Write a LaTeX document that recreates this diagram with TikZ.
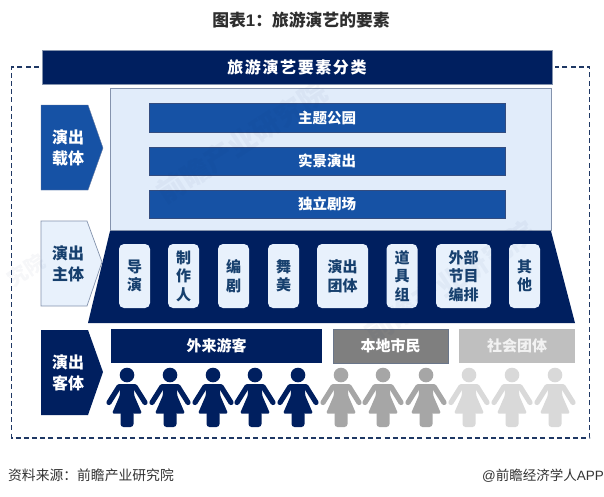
\documentclass[tikz,border=0pt]{standalone}
\usepackage{fontspec}
\setmainfont{Noto Sans CJK SC}
\newfontfamily\latinf{Liberation Sans}
\definecolor{navy}{HTML}{001F5F}
\definecolor{midblue}{HTML}{1652A5}
\definecolor{panel}{HTML}{E1ECFA}
\definecolor{card}{HTML}{E8F1FC}
\definecolor{cardtxt}{HTML}{17406E}
\definecolor{edge}{HTML}{8493AD}
\definecolor{midgray}{HTML}{7F7F7F}
\definecolor{ltgray}{HTML}{BFBFBF}
\definecolor{pgray}{HTML}{A6A6A6}
\definecolor{plight}{HTML}{D9D9D9}
\definecolor{framec}{HTML}{1F3864}
\newcommand{\fs}[2]{\fontsize{#1}{#2}\selectfont}
\newcommand{\personfig}[2]{%
  \begin{scope}[shift={(#1,375)}]
    \fill[#2] (0,0) circle[radius=7.3];
    \fill[#2,rounded corners=1.5pt] (-7.5,9) -- (7.5,9) -- (7,20) -- (15,38.5) -- (-15,38.5) -- (-7,20) -- cycle;
    \fill[#2,rounded corners=3pt] (-6.5,36) rectangle (6.5,52);
    \draw[#2,line width=5.2pt,line cap=round,line join=round] (-6,11.6) -- (-8,11.6) -- (-18,27.5);
    \draw[#2,line width=5.2pt,line cap=round,line join=round] (6,11.6) -- (8,11.6) -- (18,27.5);
  \end{scope}}
\tikzset{
  banner/.style={fill=navy,draw=edge,line width=.5pt,text=white,inner sep=0pt,font=\fs{16}{20}\bfseries},
  bluebar/.style={fill=midblue,draw=navy!80,line width=.5pt,text=white,inner sep=0pt,minimum width=356pt,minimum height=28.5pt,font=\fs{14.5}{18}\bfseries},
  tag/.style={inner sep=0pt,align=center,font=\fs{16}{20.5}\bfseries},
  crew/.style={fill=card,rounded corners=5pt,text=cardtxt,inner sep=0pt,align=center,minimum height=64pt,font=\fs{15}{18.5}\bfseries},
  aud/.style={inner sep=0pt,minimum height=34pt,font=\fs{15}{18}\bfseries},
  dashframe/.style={draw=framec,line width=1.4pt,dash pattern=on 5pt off 3.2pt},
  wm/.style={text=navy,opacity=.035,inner sep=0pt,rotate=33,font=\fs{28}{32}\bfseries}
}
\begin{document}
\begin{tikzpicture}[x=1pt,y=-1pt]
\useasboundingbox (0,0) rectangle (604,496);
\fill[white] (0,0) rectangle (604,496);
\node[inner sep=0pt,font=\fs{16.8}{20}\bfseries,text=black!82] (title) at (301,20) {图表{\latinf 1}：旅游演艺的要素};

% outer frame and banner
\node[banner,minimum width=510pt,minimum height=34pt] (head) at (297,67) {\addfontfeature{LetterSpace=10}旅游演艺要素分类};
\draw[dashframe] ([xshift=-3pt]head.west) -- ++(-27,0) -- ++(0,371) -- ++(578,0) -- ++(0,-371) -- ([xshift=3pt]head.east);

% panel
\node[fill=panel,draw=edge,line width=.7pt,minimum width=441pt,minimum height=142pt,inner sep=0pt] (stage) at (330.5,159) {};
\node[bluebar] (bar1) at (327,117.5) {主题公园};
\node[bluebar] (bar2) at (327,161) {实景演出};
\node[bluebar] (bar3) at (327,204) {独立剧场};

% trapezoid
\fill[navy] (110,231) -- (551,231) -- (575,323) -- (88,323) -- cycle;
\node[crew,minimum width=31pt] (c1) at (134.5,276) {导\\演};
\node[crew,minimum width=31pt] (c2) at (183.5,276) {制\\作\\人};
\node[crew,minimum width=31pt] (c3) at (233.5,276) {编\\剧};
\node[crew,minimum width=31pt] (c4) at (283.5,276) {舞\\美};
\node[crew,minimum width=51pt] (c5) at (342.5,276) {演出\\团体};
\node[crew,minimum width=31pt] (c6) at (402,276) {道\\具\\组};
\node[crew,minimum width=55pt] (c7) at (463.5,276) {外部\\节目\\编排};
\node[crew,minimum width=31pt] (c8) at (524.5,276) {其\\他};

% left tags
\fill[midblue,draw=navy!60,line width=.4pt] (41,105) -- (88,105) -- (103,148) -- (88,190) -- (41,190) -- cycle;
\node[tag,text=white] (t1) at (68,148) {演出\\载体};
\fill[card,draw=edge,line width=.7pt] (41,221) -- (87,221) -- (102,262) -- (87,306) -- (41,306) -- cycle;
\node[tag,text=cardtxt] (t2) at (68,264) {演出\\主体};
\fill[navy] (41,330) -- (88,330) -- (103,372) -- (88,415) -- (41,415) -- cycle;
\node[tag,text=white] (t3) at (68,373) {演出\\客体};

% audience bars
\node[aud,fill=navy,text=white,minimum width=211pt] (a1) at (216.5,346) {外来游客};
\node[aud,fill=midgray,draw=edge!80!black,line width=.7pt,text=white,minimum width=115pt] (a2) at (390.5,346) {本地市民};
\node[aud,fill=ltgray,text=white!95!black,minimum width=116pt] (a3) at (517,346) {社会团体};

% people
\foreach \px in {127,170,213,255,298} {\personfig{\px}{navy}}
\foreach \px in {341,383,426} {\personfig{\px}{pgray}}
\foreach \px in {469,512,555} {\personfig{\px}{plight}}

% watermarks
\node[wm,font=\fs{20}{24}\bfseries] (w2) at (26,270) {究院};
\node[wm] (w1) at (242,142) {前瞻产业研究院};
\node[wm] (w3) at (450,282) {前瞻产业研究院};

% footer
\node[inner sep=0pt,anchor=west,font=\fs{13.8}{16},text=black!80] (src) at (8,475) {资料来源：前瞻产业研究院};
\node[inner sep=0pt,anchor=east,font=\fs{13.5}{16},text=black!80] (brand) at (604,476) {{\latinf @}前瞻经济学人{\latinf APP}};
\end{tikzpicture}
\end{document}
